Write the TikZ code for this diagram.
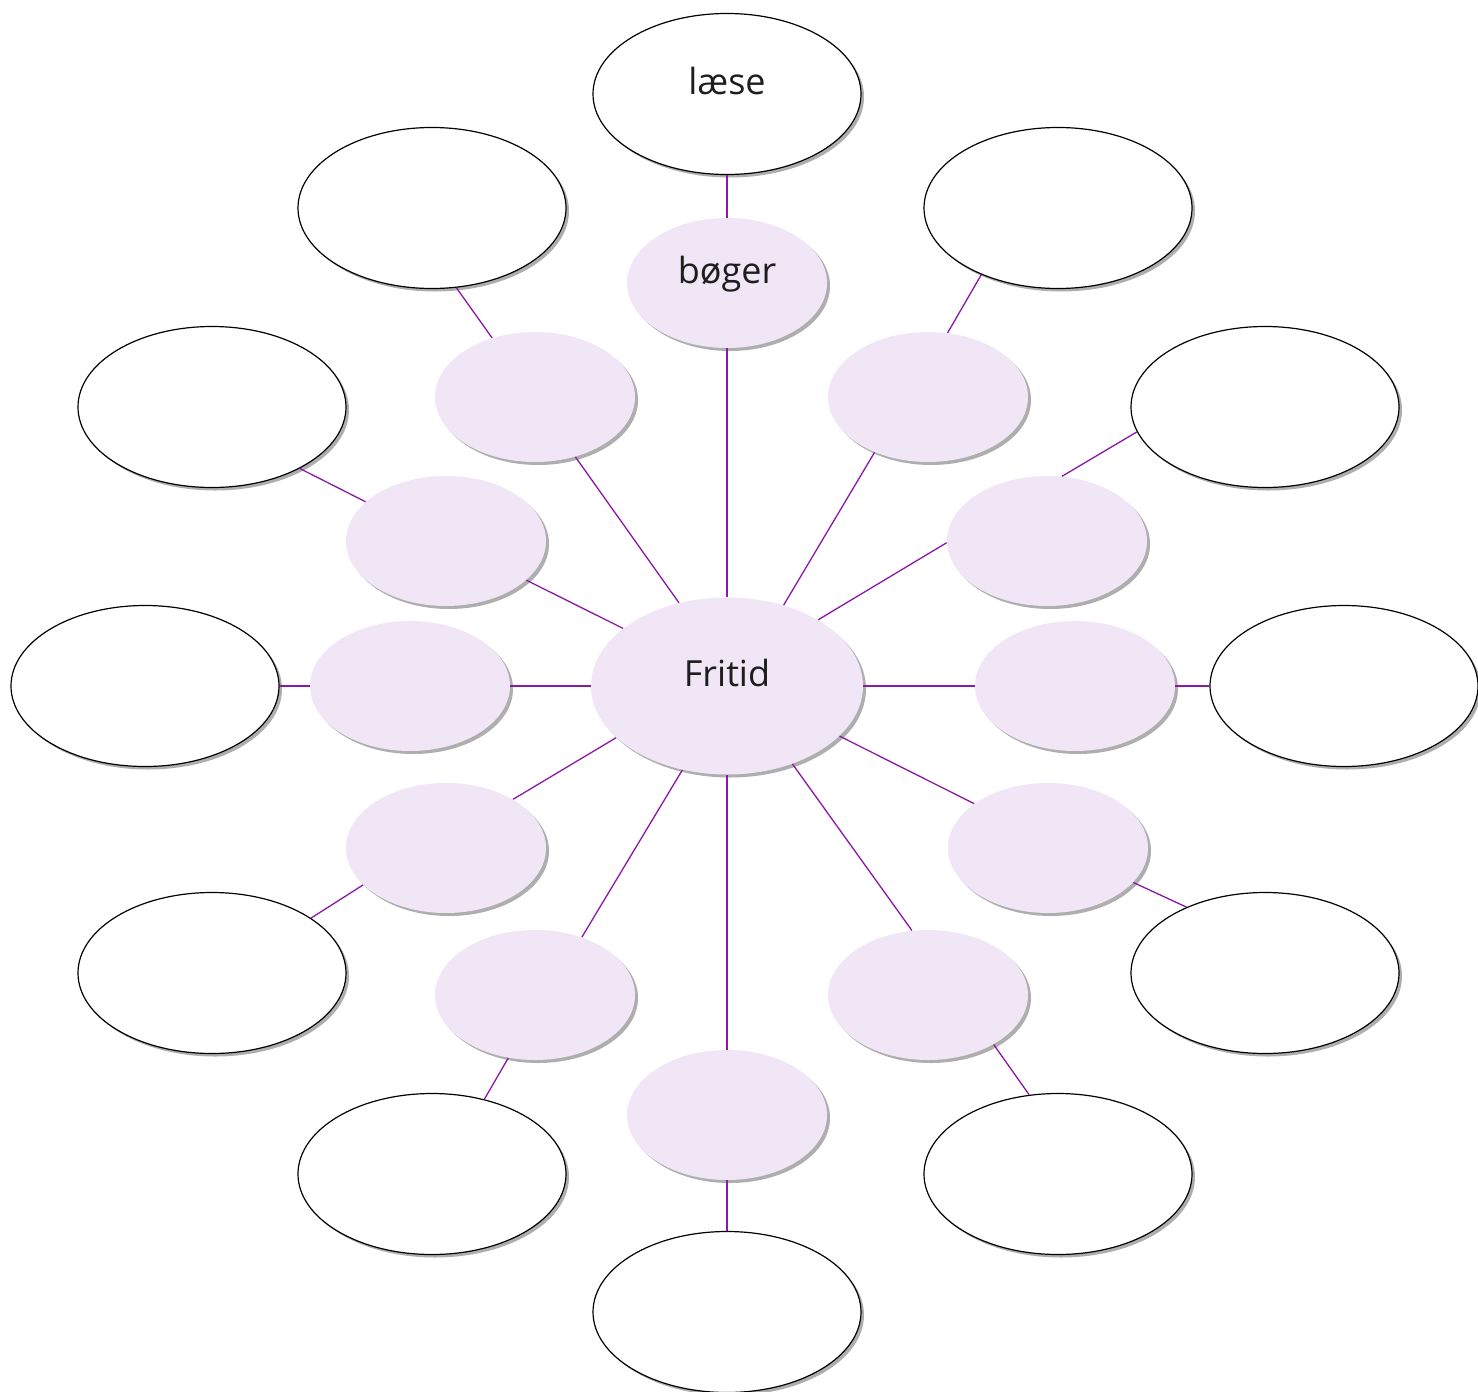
\documentclass[tikz,border=0pt]{standalone}
\usepackage{fontspec}
\setmainfont{Open Sans}
\usetikzlibrary{shapes.geometric,shadows}
\definecolor{lav}{RGB}{240,230,245}
\definecolor{conn}{RGB}{140,24,168}
\definecolor{ink}{RGB}{30,30,30}
\tikzset{
  myshadow/.style={drop shadow={shadow xshift=1.5pt,shadow yshift=-1.5pt,opacity=0.45,fill=black!70}},
  outerbox/.style={ellipse,draw=black,line width=0.6pt,fill=white,myshadow,
    minimum width=134pt,minimum height=80.5pt,inner sep=0pt,
    font=\fontsize{18pt}{20pt}\selectfont,text=ink},
  innerbox/.style={ellipse,fill=lav,myshadow,
    minimum width=100pt,minimum height=65pt,inner sep=0pt,
    font=\fontsize{18pt}{20pt}\selectfont,text=ink},
  hubbox/.style={ellipse,fill=lav,myshadow,
    minimum width=136pt,minimum height=88.5pt,inner sep=0pt,
    font=\fontsize{18pt}{20pt}\selectfont,text=ink},
  link/.style={draw=conn,line width=0.65pt}
}
\begin{document}
\begin{tikzpicture}[x=0.5pt,y=-0.5pt]
\useasboundingbox[fill=white] (0,0) rectangle (1478,1392);
% hub
\node[hubbox] (C) at (727,686) {\smash{Fritid}};
% inner ring
\node[innerbox] (iT)  at (727,283)  {\smash{bøger}};
\node[innerbox] (iUL) at (535,397)  {};
\node[innerbox] (iUR) at (928,397)  {};
\node[innerbox] (iLU) at (446,541)  {};
\node[innerbox] (iRU) at (1047,541) {};
\node[innerbox] (iL)  at (410,686)  {};
\node[innerbox] (iR)  at (1075,686) {};
\node[innerbox] (iLL) at (446,848)  {};
\node[innerbox] (iRL) at (1048,848) {};
\node[innerbox] (iDL) at (535,995)  {};
\node[innerbox] (iDR) at (928,995)  {};
\node[innerbox] (iB)  at (727,1115) {};
% outer ring
\node[outerbox] (oT)  at (727,94)   {\smash{læse}};
\node[outerbox] (oUL) at (432,208)  {};
\node[outerbox] (oUR) at (1058,208) {};
\node[outerbox] (oLU) at (212,407)  {};
\node[outerbox] (oRU) at (1265,407) {};
\node[outerbox] (oL)  at (145,686)  {};
\node[outerbox] (oR)  at (1344,686) {};
\node[outerbox] (oLL) at (212,973)  {};
\node[outerbox] (oRL) at (1265,973) {};
\node[outerbox] (oDL) at (432,1174) {};
\node[outerbox] (oDR) at (1058,1174) {};
\node[outerbox] (oB)  at (727,1312) {};
% connectors hub - inner
\draw[link] (C.90)    -- (iT.-90);
\draw[link] (C.120.6) -- (iUL.-56.5);
\draw[link] (C.55.7)  -- (iUR.226.1);
\draw[link] (C.151.5) -- (iLU.-26.85);
\draw[link] (C.36.4)  -- (iRU.181.7);
\draw[link] (C.180)   -- (iL.0);
\draw[link] (C.0)     -- (iR.180);
\draw[link] (C.205.3) -- (iLL.36.6);
\draw[link] (C.-24.5) -- (iRL.149);
\draw[link] (C.242.6) -- (iDL.51);
\draw[link] (C.-50.1) -- (iDR.104);
\draw[link] (C.-90)   -- (iB.90);
% connectors inner - outer
\draw[link] (iT.90)     -- (oT.-90);
\draw[link] (iUL.126.7) -- (oUL.-73.96);
\draw[link] (iUR.73.7)  -- (oUR.221.4);
\draw[link] (iLU.154)   -- (oLU.-35.5);
\draw[link] (iRU.77)    -- (oRU.191.6);
\draw[link] (iL.180)    -- (oL.0);
\draw[link] (iR.0)      -- (oR.180);
\draw[link] (iLL.204.9) -- (oLL.29.5);
\draw[link] (iRL.-22.1) -- (oRL.140.9);
\draw[link] (iDL.247.6) -- (oDL.55.3);
\draw[link] (iDR.-37.6) -- (oDR.110.8);
\draw[link] (iB.-90)    -- (oB.90);
\end{tikzpicture}
\end{document}
